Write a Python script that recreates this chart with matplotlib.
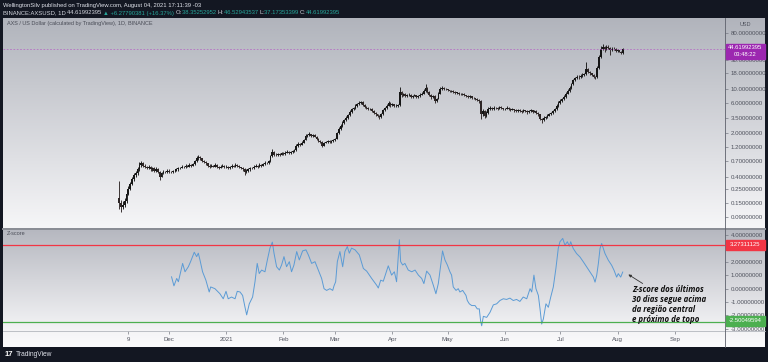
import numpy as np
import pandas as pd
import matplotlib
matplotlib.use("Agg")
import matplotlib.pyplot as plt
from matplotlib.patches import Rectangle, FancyArrowPatch
from matplotlib.lines import Line2D
from matplotlib.colors import LinearSegmentedColormap
from matplotlib.ticker import FixedLocator, NullLocator, FuncFormatter

# ---------------- data ----------------
start_date = "2020-11-04"
first_open = 0.18
close = [
    0.15, 0.13, 0.14, 0.16, 0.21, 0.25, 0.30, 0.36, 0.42, 0.45,
    0.52, 0.62, 0.66, 0.60, 0.57, 0.55, 0.58, 0.52, 0.55, 0.50,
    0.53, 0.47, 0.40, 0.45, 0.48, 0.47, 0.50, 0.48, 0.47, 0.49,
    0.50, 0.52, 0.54, 0.55, 0.58, 0.56, 0.60, 0.58, 0.62, 0.60,
    0.64, 0.70, 0.78, 0.82, 0.78, 0.72, 0.68, 0.65, 0.60, 0.58,
    0.60, 0.58, 0.62, 0.57, 0.55, 0.58, 0.60, 0.56, 0.58, 0.55,
    0.57, 0.60, 0.58, 0.62, 0.60, 0.56, 0.55, 0.52, 0.47, 0.50,
    0.52, 0.55, 0.54, 0.58, 0.60, 0.57, 0.62, 0.60, 0.64, 0.66,
    0.65, 0.70, 0.85, 1.00, 0.90, 0.88, 0.92, 0.90, 0.95, 0.92,
    0.97, 1.00, 0.95, 0.98, 1.02, 1.05, 1.25, 1.35, 1.30, 1.40,
    1.55, 1.80, 1.85, 1.90, 1.80, 1.85, 1.75, 1.60, 1.50, 1.45,
    1.25, 1.40, 1.45, 1.50, 1.42, 1.48, 1.55, 1.60, 2.00, 2.30,
    2.60, 2.90, 3.20, 3.50, 3.90, 4.30, 4.80, 5.00, 5.50, 5.80,
    6.00, 6.20, 5.60, 5.30, 5.00, 4.80, 4.90, 4.50, 4.20, 4.00,
    3.80, 3.60, 4.00, 4.60, 5.00, 5.50, 6.00, 5.60, 5.80, 5.40,
    5.50, 5.60, 9.00, 8.00, 8.30, 7.80, 8.00, 8.20, 7.60, 7.90,
    8.10, 7.50, 7.80, 8.20, 8.50, 9.50, 10.50, 9.00, 8.20, 7.50,
    7.80, 6.50, 7.00, 8.50, 10.00, 10.50, 10.20, 10.00, 9.60, 9.40,
    9.50, 9.00, 8.80, 8.90, 8.50, 8.30, 8.40, 8.00, 7.80, 7.60,
    7.80, 7.30, 7.20, 7.00, 6.80, 6.50, 4.00, 4.50, 3.80, 4.20,
    4.90, 5.00, 4.80, 5.10, 5.00, 4.90, 5.20, 5.00, 4.80, 4.90,
    5.10, 4.90, 4.70, 4.80, 4.60, 4.50, 4.70, 4.50, 4.40, 4.60,
    4.50, 4.30, 4.50, 4.60, 4.40, 4.50, 4.20, 4.00, 3.40, 3.20,
    3.50, 3.60, 3.80, 4.00, 4.20, 4.50, 4.80, 5.50, 6.00, 6.50,
    7.00, 7.50, 8.50, 9.50, 10.50, 12.0, 14.0, 15.0, 16.0, 15.5,
    16.5, 17.0, 17.5, 21.0, 19.0, 18.0, 17.0, 16.0, 15.5, 22.0,
    33.0, 45.0, 47.0, 44.0, 48.0, 46.0, 43.0, 45.0, 44.0, 41.0,
    42.0, 40.0, 38.34, 44.62,
]
high = [
    0.34, 0.17, 0.16, 0.18, 0.23, 0.28, 0.33, 0.40, 0.46, 0.50,
    0.56, 0.68, 0.72, 0.69, 0.63, 0.60, 0.62, 0.60, 0.58, 0.57,
    0.56, 0.54, 0.49, 0.47, 0.51, 0.50, 0.52, 0.52, 0.50, 0.51,
    0.52, 0.54, 0.56, 0.58, 0.61, 0.60, 0.63, 0.62, 0.65, 0.64,
    0.67, 0.74, 0.84, 0.88, 0.85, 0.80, 0.75, 0.70, 0.67, 0.63,
    0.63, 0.62, 0.66, 0.64, 0.59, 0.61, 0.64, 0.62, 0.61, 0.60,
    0.60, 0.63, 0.62, 0.66, 0.64, 0.62, 0.58, 0.57, 0.54, 0.53,
    0.55, 0.58, 0.58, 0.61, 0.63, 0.62, 0.65, 0.64, 0.67, 0.70,
    0.69, 0.74, 0.90, 1.10, 1.03, 0.94, 0.96, 0.95, 0.99, 0.98,
    1.01, 1.05, 1.03, 1.02, 1.06, 1.10, 1.32, 1.42, 1.40, 1.46,
    1.62, 1.90, 1.95, 2.05, 1.96, 1.92, 1.90, 1.80, 1.65, 1.56,
    1.50, 1.45, 1.50, 1.56, 1.55, 1.53, 1.60, 1.68, 2.10, 2.45,
    2.75, 3.10, 3.40, 3.70, 4.10, 4.60, 5.10, 5.30, 5.80, 6.10,
    6.40, 6.60, 6.40, 5.80, 5.50, 5.20, 5.10, 5.00, 4.70, 4.30,
    4.10, 3.90, 4.20, 4.80, 5.30, 5.90, 6.50, 6.20, 6.10, 5.90,
    5.80, 5.90, 11.0, 9.50, 8.80, 8.60, 8.40, 8.60, 8.40, 8.20,
    8.50, 8.20, 8.10, 8.60, 9.00, 10.2, 12.0, 10.8, 9.30, 8.40,
    8.20, 8.00, 7.40, 9.00, 10.8, 11.2, 11.0, 10.6, 10.3, 9.90,
    9.90, 9.70, 9.30, 9.20, 9.10, 8.80, 8.70, 8.60, 8.20, 8.00,
    8.10, 7.90, 7.60, 7.40, 7.20, 7.00, 6.70, 4.90, 4.70, 4.50,
    5.20, 5.40, 5.20, 5.40, 5.30, 5.20, 5.50, 5.40, 5.10, 5.10,
    5.40, 5.20, 5.00, 5.00, 4.90, 4.80, 4.90, 4.80, 4.60, 4.80,
    4.70, 4.60, 4.70, 4.80, 4.70, 4.70, 4.60, 4.30, 4.10, 3.50,
    3.70, 3.80, 4.00, 4.20, 4.40, 4.70, 5.10, 5.80, 6.40, 6.90,
    7.40, 8.00, 9.00, 10.2, 11.2, 12.8, 14.8, 16.0, 17.0, 16.8,
    17.3, 18.0, 18.5, 27.0, 22.0, 19.8, 18.6, 17.5, 16.5, 23.5,
    35.0, 50.0, 53.0, 50.0, 52.0, 51.0, 48.0, 47.0, 48.0, 45.5,
    44.0, 43.5, 41.5, 46.53,
]
low = [
    0.12, 0.11, 0.12, 0.13, 0.15, 0.20, 0.24, 0.29, 0.34, 0.40,
    0.43, 0.50, 0.58, 0.57, 0.54, 0.52, 0.53, 0.50, 0.50, 0.48,
    0.48, 0.45, 0.35, 0.39, 0.44, 0.45, 0.46, 0.46, 0.45, 0.46,
    0.47, 0.49, 0.50, 0.52, 0.54, 0.54, 0.55, 0.56, 0.57, 0.58,
    0.59, 0.62, 0.68, 0.75, 0.74, 0.69, 0.65, 0.62, 0.57, 0.55,
    0.56, 0.56, 0.57, 0.55, 0.52, 0.54, 0.56, 0.54, 0.54, 0.53,
    0.53, 0.55, 0.56, 0.57, 0.57, 0.54, 0.52, 0.50, 0.42, 0.46,
    0.48, 0.50, 0.52, 0.53, 0.56, 0.55, 0.56, 0.58, 0.59, 0.62,
    0.63, 0.64, 0.69, 0.83, 0.86, 0.84, 0.86, 0.87, 0.88, 0.89,
    0.90, 0.95, 0.92, 0.93, 0.96, 1.00, 1.03, 1.20, 1.25, 1.27,
    1.38, 1.52, 1.72, 1.78, 1.74, 1.75, 1.70, 1.55, 1.45, 1.38,
    1.18, 1.22, 1.36, 1.40, 1.38, 1.39, 1.45, 1.50, 1.58, 1.95,
    2.25, 2.50, 2.80, 3.10, 3.40, 3.80, 4.20, 4.60, 4.90, 5.30,
    5.60, 5.80, 5.40, 5.10, 4.80, 4.60, 4.60, 4.30, 4.00, 3.80,
    3.60, 3.40, 3.50, 3.90, 4.50, 4.90, 5.40, 5.30, 5.40, 5.20,
    5.20, 5.30, 5.50, 7.60, 7.70, 7.50, 7.60, 7.80, 7.30, 7.40,
    7.70, 7.20, 7.30, 7.60, 8.00, 8.30, 9.20, 8.60, 7.80, 7.00,
    7.20, 6.00, 6.30, 6.90, 8.30, 9.70, 9.80, 9.60, 9.30, 9.10,
    9.10, 8.70, 8.50, 8.50, 8.20, 8.00, 8.00, 7.70, 7.50, 7.30,
    7.40, 7.00, 6.90, 6.70, 6.50, 6.10, 3.30, 3.80, 3.50, 3.60,
    4.10, 4.70, 4.60, 4.70, 4.80, 4.70, 4.80, 4.80, 4.60, 4.60,
    4.80, 4.70, 4.50, 4.60, 4.40, 4.30, 4.40, 4.30, 4.20, 4.30,
    4.30, 4.10, 4.20, 4.40, 4.20, 4.30, 4.00, 3.80, 3.20, 2.90,
    3.10, 3.40, 3.50, 3.70, 3.90, 4.10, 4.40, 4.70, 5.30, 5.80,
    6.30, 6.80, 7.30, 8.30, 9.20, 10.2, 11.6, 13.5, 14.5, 14.8,
    15.0, 16.0, 16.5, 17.0, 18.0, 17.2, 16.3, 15.2, 14.5, 15.2,
    21.5, 32.0, 43.0, 40.0, 43.0, 44.0, 36.0, 41.5, 42.0, 40.0,
    39.5, 39.0, 37.5, 37.17,
]
last_open = 38.35252952
last_price = 44.61992395

# z-score: (days since 2020-11-04, value)
z_day = [
    28.4, 29.7, 31.2, 32.1, 34.4, 35.7, 37.5, 38.7, 40.7, 42.0, 42.9, 43.8,
    45.2, 47.0, 48.8, 49.6, 51.9, 54.6, 56.4, 57.9, 59.1, 60.9, 62.8, 64.0,
    65.5, 66.9, 68.2, 69.1, 70.5, 72.3, 73.6, 74.8, 75.9, 77.2, 79.0, 80.3,
    81.7, 83.0, 83.9, 85.3, 86.8, 88.0, 89.3, 90.7, 92.2, 93.4, 94.7, 96.2,
    97.6, 99.4, 101.2, 102.5, 104.3, 106.1, 107.9, 109.7, 111.0, 112.4,
    114.2, 115.7, 116.4, 117.3, 118.2, 119.6, 121.1, 122.3, 123.6, 124.7,
    125.9, 127.8, 130.1,
    132.3, 134.1, 136.8, 139.5, 140.4, 141.7, 143.1, 145.8, 147.6, 149.1,
    150.3, 151.8, 152.5, 153.6, 154.8, 156.6, 158.5, 160.3, 162.1, 163.9,
    165.1, 166.6, 168.4, 170.2, 171.6, 172.9, 175.2, 176.5, 177.8, 179.2,
    180.1, 181.0, 182.5, 183.7, 184.6, 186.1, 187.9, 188.6, 189.7, 191.0,
    192.8, 194.0, 195.1, 195.8, 196.4, 197.3, 199.1, 200.9, 202.7, 204.5,
    206.3, 208.1, 209.9, 211.7, 213.5, 215.3, 217.1, 218.9, 220.8, 222.6,
    223.5, 224.7, 225.8, 227.1, 228.0, 228.9, 229.8, 231.2, 232.5, 233.8,
    235.2, 236.6, 237.9,
    238.8, 240.3, 241.5, 242.8, 243.9, 244.6, 246.0, 247.8, 249.6, 251.5,
    253.3, 255.1, 256.9, 257.8, 258.7, 259.6, 260.5, 261.4, 263.2, 265.0,
    266.8, 268.1, 269.5, 270.4, 271.7, 272.8,
]
z_val = [
    0.89, 0.21, 0.77, 0.52, 1.90, 1.27, 1.65, 2.03, 2.74, 2.41, 2.67, 2.16,
    1.27, 0.64, -0.25, 0.13, 0.00, -0.38, -0.76, -0.20, -0.76, -0.63, -0.76, -0.20,
    -0.25, -0.51, -1.40, -1.97, -1.14, -0.63, 0.52, 1.90, 1.14, 1.40, 1.27, 2.16,
    3.05, 3.50, 2.67, 1.65, 1.40, 1.78, 2.41, 1.65, 2.03, 1.27, 1.78, 2.79,
    2.16, 2.84, 2.92, 2.54, 1.90, 2.03, 1.40, 0.77, 0.00, -0.13,
    0.00, -0.13, 0.21, 0.52, 2.03, 2.79, 1.65, 2.79, 3.17, 2.67,
    3.05, 2.92, 2.54,
    1.52, 1.32, 0.77, 0.26, 0.05, 0.64, 0.56, 1.72, 1.02, 1.27,
    0.52, 3.68, 2.03, 1.78, 1.90, 1.40, 1.27, 1.40, 1.02, 0.77,
    0.38, 1.32, 1.02, 0.26, -0.38, 0.38, 2.84, 2.16, 1.78, 1.27,
    1.02, 0.13, -0.13, 0.00, -0.25, -0.13, -0.51, -0.89, -1.14, -1.27,
    -1.27, -1.52, -1.52, -2.41, -2.79, -2.08, -2.16, -1.78, -1.22, -1.14,
    -0.89, -0.76, -0.81, -0.71, -0.89, -0.81, -0.96, -0.63, -0.76, 0.00,
    -0.25, 1.02, 0.00, -0.51, -1.52, -2.66, -2.28, -1.14, -1.40, -0.63,
    0.13, 1.52, 3.05,
    3.53, 3.78, 3.27, 3.53, 3.20, 3.53, 3.02, 2.64, 2.39, 2.01,
    1.63, 1.25, 0.87, 0.49, 1.00, 1.89, 3.02, 3.40, 2.64, 2.14,
    1.76, 1.38, 0.87, 1.13, 0.87, 1.25,
]
z_upper = 3.27311125
z_lower = -2.50049594

tick_dates = ["2020-11-09", "2020-12-01", "2021-01-01", "2021-02-01", "2021-03-01",
              "2021-04-01", "2021-05-01", "2021-06-01", "2021-07-01", "2021-08-01",
              "2021-09-01"]
tick_labels = ["9", "Dec", "2021", "Feb", "Mar", "Apr", "May", "Jun", "Jul", "Aug", "Sep"]
price_ticks = [80, 30, 18, 10, 6, 3.5, 2, 1.2, 0.7, 0.4, 0.25, 0.15, 0.09]
z_ticks = [4, 2, 1, 0, -1, -2, -3]

header1 = "WellingtonSilv published on TradingView.com, August 04, 2021 17:11:39 -03"
header2 = [("BINANCE:AXSUSD, 1D ", "#d1d4dc"), ("44.61992395 ", "#d1d4dc"),
           ("\u25b2 +6.27790381 (+16.37%) ", "#26a69a"),
           ("O:", "#d1d4dc"), ("38.35252952 ", "#26a69a"),
           ("H:", "#d1d4dc"), ("46.52943537 ", "#26a69a"),
           ("L:", "#d1d4dc"), ("37.17353399 ", "#26a69a"),
           ("C:", "#d1d4dc"), ("44.61992395", "#26a69a")]
pane_title = "AXS / US Dollar (calculated by TradingView), 1D, BINANCE"
note = "Z-score dos últimos\n30 dias segue acima\nda região central\ne próximo de topo"

# ---------------- figure ----------------
plt.rcParams["font.family"] = ["Liberation Sans", "DejaVu Sans"]
W, H = 768, 362
fig = plt.figure(figsize=(W / 100, H / 100), dpi=100, facecolor="#131722")


def rect(x0, y0, x1, y1):
    return [x0 / W, 1 - y1 / H, (x1 - x0) / W, (y1 - y0) / H]


def gradient(r, c_top, c_bot):
    a = fig.add_axes(r, zorder=0)
    cmap = LinearSegmentedColormap.from_list("g", [c_top, c_bot])
    a.imshow(np.linspace(0, 1, 256).reshape(-1, 1), aspect="auto", cmap=cmap,
             extent=[0, 1, 0, 1], origin="upper")
    a.axis("off")
    return a


gradient(rect(3, 18, 765, 228), "#b1b4bc", "#f6f6f8")
gradient(rect(3, 230, 765, 331), "#b6b8c0", "#f4f4f6")
gradient(rect(3, 331, 765, 347), "#f4f4f6", "#fbfbfc")

days = np.arange(len(close))
opens = np.array([first_open] + close[:-1])
opens[-1] = last_open
closes = np.array(close)
highs = np.array(high)
lows = np.array(low)

xmin, xmax = -62.9, 328.2

# ---- price pane ----
ax = fig.add_axes(rect(3, 18, 725, 228), zorder=2)
ax.patch.set_visible(False)
ax.set_yscale("log")
up = closes >= opens
col = np.where(up, "#161616", "#2e2626")
ax.vlines(days, lows, highs, colors=col, lw=0.65)
bot = np.minimum(opens, closes)
top = np.maximum(opens, closes)
top = np.maximum(top, bot * 1.012)
ax.bar(days, top - bot, bottom=bot, width=0.95, color=col, linewidth=0)
ax.axhline(last_price, color="#b45cc4", lw=0.6, ls=(0, (2, 2)), alpha=0.8)
ax.set_xlim(xmin, xmax)
ax.set_ylim(0.0600, 139.1)
ax.yaxis.set_major_locator(FixedLocator(price_ticks))
ax.yaxis.set_minor_locator(NullLocator())
ax.yaxis.set_major_formatter(FuncFormatter(lambda v, p: f"{v:.8f}"))
ax.yaxis.tick_right()
ax.tick_params(axis="y", length=2, width=0.5, color="#777a84", labelsize=4.4,
               labelcolor="#50535e", pad=2)
ax.set_xticks([])
for s in ax.spines.values():
    s.set_visible(False)

# ---- z-score pane ----
az = fig.add_axes(rect(3, 230, 725, 331), zorder=2)
az.patch.set_visible(False)
az.plot(z_day, z_val, color="#5b9bd5", lw=0.7)
az.axhline(z_upper, color="#f23645", lw=0.9)
az.axhline(z_lower, color="#4caf50", lw=0.9)
az.set_xlim(xmin, xmax)
az.set_ylim(-3.184, 4.413)
az.yaxis.set_major_locator(FixedLocator(z_ticks))
az.yaxis.set_major_formatter(FuncFormatter(lambda v, p: f"{v:.8f}"))
az.yaxis.tick_right()
az.tick_params(axis="y", length=2, width=0.5, color="#777a84", labelsize=4.4,
               labelcolor="#50535e", pad=2)
t0 = pd.Timestamp(start_date)
tick_pos = [(pd.Timestamp(d) - t0).days for d in tick_dates]
az.set_xticks(tick_pos)
az.set_xticklabels(tick_labels)
az.tick_params(axis="x", length=2, width=0.5, color="#777a84", labelsize=4.4,
               labelcolor="#50535e", pad=2.5)
for s in az.spines.values():
    s.set_visible(False)

# separators and right axis line
fig.add_artist(Line2D([3 / W, 765 / W], [1 - 229 / H] * 2, color="#8e9199", lw=1.4, zorder=5))
fig.add_artist(Line2D([3 / W, 765 / W], [1 - 331 / H] * 2, color="#b3b6bd", lw=0.6, zorder=5))
fig.add_artist(Line2D([725 / W] * 2, [1 - 18 / H, 1 - 347 / H], color="#5d606b", lw=0.6, zorder=5))


def label_box(y0, y1, color, lines):
    fig.add_artist(Rectangle((726 / W, 1 - y1 / H), 39 / W, (y1 - y0) / H,
                             transform=fig.transFigure, color=color, zorder=10))
    n = len(lines)
    for i, t in enumerate(lines):
        yc = y0 + (y1 - y0) * (i + 0.5) / n
        fig.text(745.5 / W, 1 - yc / H, t, color="white", fontsize=4.2,
                 ha="center", va="center", zorder=11)


label_box(43.5, 58.5, "#9c27b0", ["44.61992395", "03:48:22"])
label_box(240, 250, "#f23645", ["3.27311125"])
label_box(316, 326, "#4caf50", ["-2.50049594"])
fig.text(745 / W, 1 - 25 / H, "USD", color="#50535e", fontsize=4.0, ha="center", va="center")

# titles
fig.text(7 / W, 1 - 23.5 / H, pane_title, fontsize=4.0, color="#4a4d57", va="center")
fig.text(7 / W, 1 - 233.5 / H, "Z-score", fontsize=4.0, color="#4a4d57", va="center")

# header
fig.text(3 / W, 1 - 5.5 / H, header1, fontsize=4.2, color="#e0e3eb", va="center")
renderer = fig.canvas.get_renderer()
xcur = 3
for txt, c in header2:
    t = fig.text(xcur / W, 1 - 13 / H, txt, fontsize=4.2, color=c, va="center")
    bb = t.get_window_extent(renderer=renderer)
    xcur += bb.width

# footer
fig.text(5 / W, 1 - 354.5 / H, "17", fontsize=5.5, color="white", weight="bold", va="center")
fig.text(16 / W, 1 - 354.5 / H, "TradingView", fontsize=4.8, color="#e0e3eb", va="center")

# annotation
fig.text(632 / W, 1 - 304.5 / H, note, fontsize=5.7, color="#111111", weight="bold",
         style="italic", va="center", ha="left", linespacing=1.1,
         family=["Open Sans", "DejaVu Sans"], zorder=12)
fig.add_artist(FancyArrowPatch(
    (645 / W, 1 - 285 / H), (626 / W, 1 - 273 / H), transform=fig.transFigure,
    arrowstyle="-|>", mutation_scale=4, color="#333333", lw=0.6, zorder=12))

fig.savefig("out.png", dpi=100, facecolor=fig.get_facecolor())
